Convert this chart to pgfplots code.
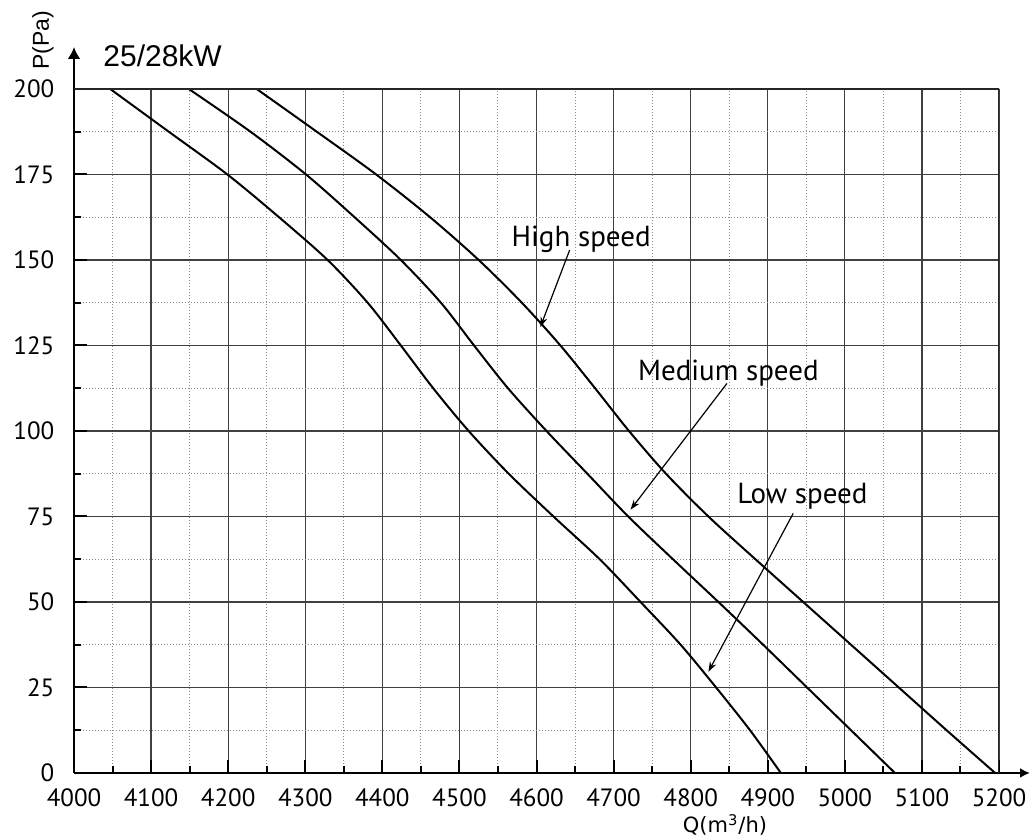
\documentclass[border=0pt]{standalone}
\usepackage{pgfplots}
\pgfplotsset{compat=1.18}
\usepackage{fontspec}
\setmainfont{PT Sans}
\newfontfamily\arialf{Liberation Sans}
\newfontfamily\dejavu{DejaVu Sans}
\usetikzlibrary{arrows.meta}
\begin{document}
\begin{tikzpicture}
\begin{axis}[
  at={(0,0)}, anchor=south west,
  scale only axis, width=462.5pt, height=342pt,
  xmin=4000, xmax=5200, ymin=0, ymax=200,
  xtick={4000,4100,...,5200}, ytick={0,25,...,200},
  minor x tick num=1, minor y tick num=1,
  grid=both,
  major grid style={black!75, line width=0.6pt},
  minor grid style={black!45, line width=0.5pt, dash pattern=on 0.7pt off 0.8pt},
  axis lines=left,
  x axis line style={line width=1.4pt, -{Latex[length=5pt,width=5pt]}, shorten >=-15.5pt},
  y axis line style={line width=1.4pt, -{Latex[length=6pt,width=6.5pt]}, shorten >=-21pt},
  tick align=inside,
  major tick length=6.5pt, minor tick length=3.5pt,
  every tick/.style={black, line width=1pt},
  /pgf/number format/assume math mode=true,
  /pgf/number format/1000 sep={},
  tick label style={font=\fontsize{12.5}{14}\selectfont},
  xticklabel style={yshift=-4.3pt},
  yticklabel style={xshift=-6.3pt},
]
% Low speed
\addplot[black, line width=1pt, smooth, tension=0.5] coordinates {
(4047,200) (4123,187.5) (4199,175) (4266,162.5) (4329,150) (4381,137.5)
(4424,125) (4466,112.5) (4512,100) (4564,87.5) (4622,75) (4682,62.5)
(4735,50) (4787,37.5) (4833,25) (4877,12.5) (4917,0)};
% Medium speed
\addplot[black, line width=1pt, smooth, tension=0.5] coordinates {
(4149,200) (4229,187.5) (4301,175) (4364,162.5) (4424,150) (4476,137.5)
(4519,125) (4563,112.5) (4613,100) (4666,87.5) (4719,75) (4777,62.5)
(4836,50) (4894,37.5) (4951,25) (5008,12.5) (5065,0)};
% High speed
\addplot[black, line width=1pt, smooth, tension=0.5] coordinates {
(4237,200) (4315,187.5) (4392,175) (4462,162.5) (4525,150) (4581,137.5)
(4631,125) (4676,112.5) (4720,100) (4768,87.5) (4823,75) (4884,62.5)
(4946,50) (5008,37.5) (5070,25) (5132,12.5) (5195,0)};
\draw[black!85, line width=0.9pt] (rel axis cs:0,1) -- (rel axis cs:1,1) -- (rel axis cs:1,0);
\node[anchor=base, font=\fontsize{14.5}{16}\selectfont] at (axis cs:4658,153.8) {High speed};
\draw[-{Stealth[length=5pt,width=3.5pt]}, line width=0.6pt] (axis cs:4643,152.9) -- (axis cs:4605,130.4);
\node[anchor=base, font=\fontsize{14.5}{16}\selectfont] at (axis cs:4849,114.9) {Medium speed};
\draw[-{Stealth[length=5pt,width=3.5pt]}, line width=0.6pt] (axis cs:4847,113.9) -- (axis cs:4722,77);
\node[anchor=base, font=\fontsize{14.5}{16}\selectfont] at (axis cs:4945,78.9) {Low speed};
\draw[-{Stealth[length=5pt,width=3.5pt]}, line width=0.6pt] (axis cs:4933,75.9) -- (axis cs:4823,29.6);
\end{axis}
\node[anchor=base west, font=\arialf\fontsize{15}{17}\selectfont, inner sep=0pt] at (14.5pt,353pt) {25/28kW};
\node[anchor=base, rotate=90, font=\arialf\fontsize{11.5}{13}\selectfont, inner sep=0pt] at (-12.5pt,366.5pt) {P(Pa)};
\node[anchor=base, font=\dejavu\fontsize{10.5}{12}\selectfont, inner sep=0pt] at (325.5pt,-30pt) {Q(m\textsuperscript{3}/h)};
\pgfresetboundingbox
\path (-37pt,-33pt) rectangle (478pt,386.5pt);
\end{tikzpicture}
\end{document}
